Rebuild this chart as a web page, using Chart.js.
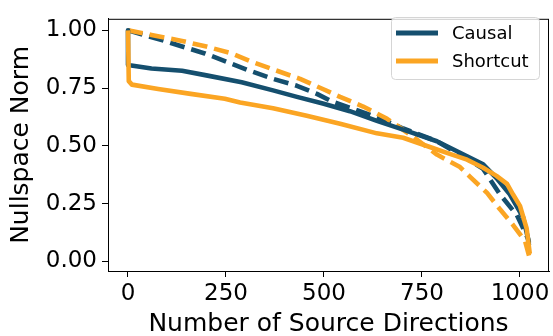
<!DOCTYPE html>
<html>
<head>
<meta charset="utf-8">
<script src="https://cdn.jsdelivr.net/npm/chart.js@4"></script>
<style>
  html, body { margin: 0; padding: 0; background: #fff; }
  #wrap { width: 553px; height: 336px; }
</style>
</head>
<body>
<div id="wrap"><canvas id="nullspaceChart"></canvas></div>
<script>
// values
const causalSolidX = [0, 0, 60, 138, 200, 290, 370, 431, 497, 566, 635, 702, 788, 847, 906, 940, 974, 1008, 1023];
const causalSolidY = [1.0, 0.85, 0.835, 0.825, 0.805, 0.775, 0.74, 0.712, 0.683, 0.65, 0.608, 0.57, 0.52, 0.47, 0.42, 0.36, 0.29, 0.19, 0.08];

const causalDashedX = [0, 50, 94, 138, 196, 247, 303, 370, 431, 482, 523, 600, 640, 702, 788, 865, 906, 949, 992, 1020, 1023];
const causalDashedY = [1.0, 0.975, 0.954, 0.93, 0.9, 0.867, 0.83, 0.79, 0.76, 0.725, 0.69, 0.645, 0.62, 0.575, 0.52, 0.445, 0.40, 0.29, 0.2, 0.1, 0.07];

const shortcutSolidX = [0, 2, 10, 77, 160, 247, 286, 370, 456, 541, 635, 702, 770, 821, 865, 906, 940, 967, 982, 1000, 1017, 1025];
const shortcutSolidY = [1.0, 0.78, 0.765, 0.746, 0.725, 0.704, 0.688, 0.663, 0.63, 0.596, 0.554, 0.535, 0.495, 0.465, 0.44, 0.405, 0.37, 0.335, 0.29, 0.24, 0.142, 0.033];

const shortcutDashedX = [0, 60, 138, 200, 265, 311, 380, 439, 497, 541, 600, 635, 661, 727, 788, 847, 872, 916, 949, 982, 1013, 1023];
const shortcutDashedY = [1.0, 0.98, 0.954, 0.93, 0.9, 0.867, 0.825, 0.79, 0.746, 0.712, 0.67, 0.64, 0.617, 0.54, 0.462, 0.408, 0.367, 0.296, 0.225, 0.158, 0.0875, 0.025];

const xTicks = [0, 250, 500, 750, 1000];
const yTicks = [0, 0.25, 0.5, 0.75, 1.0];

const causalColor = '#154f6e';
const shortcutColor = '#fba523';

function toPoints(xs, ys) {
    return xs.map((x, i) => ({x: x, y: ys[i]}));
}

// box around the plot area + matplotlib style legend
const framePlugin = {
    id: 'frame',
    afterDraw(chart) {
        const {ctx, chartArea} = chart;
        ctx.save();
        ctx.strokeStyle = '#000';
        ctx.lineWidth = 1;
        ctx.strokeRect(chartArea.left + 0.5, chartArea.top + 0.5,
            chartArea.right - chartArea.left - 1, chartArea.bottom - chartArea.top);

        // legend
        const x0 = 391, y0 = 17, w = 148, h = 62, r = 4;
        ctx.beginPath();
        ctx.roundRect(x0 + 0.5, y0 + 0.5, w, h, r);
        ctx.fillStyle = 'rgba(255,255,255,0.8)';
        ctx.fill();
        ctx.strokeStyle = '#d5d5d5';
        ctx.stroke();

        const entries = [['Causal', causalColor], ['Shortcut', shortcutColor]];
        ctx.font = '18px "DejaVu Sans"';
        ctx.textBaseline = 'middle';
        entries.forEach((e, i) => {
            const y = y0 + 16 + i * 28;
            ctx.beginPath();
            ctx.moveTo(396, y);
            ctx.lineTo(438, y);
            ctx.strokeStyle = e[1];
            ctx.lineWidth = 4.8;
            ctx.stroke();
            ctx.fillStyle = '#000';
            ctx.fillText(e[0], 452, y + 1);
        });
        ctx.restore();
    }
};

new Chart(document.getElementById('nullspaceChart'), {
    type: 'line',
    data: {
        datasets: [
            {
                label: 'Shortcut',
                data: toPoints(shortcutSolidX, shortcutSolidY),
                borderColor: shortcutColor,
                borderWidth: 4.6,
                order: 1
            },
            {
                label: 'Causal',
                data: toPoints(causalSolidX, causalSolidY),
                borderColor: causalColor,
                borderWidth: 4.6,
                order: 2
            },
            {
                label: 'Shortcut (dashed)',
                data: toPoints(shortcutDashedX, shortcutDashedY),
                borderColor: shortcutColor,
                borderWidth: 4.6,
                borderDash: [15, 7],
                order: 3
            },
            {
                label: 'Causal (dashed)',
                data: toPoints(causalDashedX, causalDashedY),
                borderColor: causalColor,
                borderWidth: 4.6,
                borderDash: [15, 7],
                order: 4
            }
        ]
    },
    options: {
        responsive: true,
        maintainAspectRatio: false,
        animation: false,
        elements: {
            point: { radius: 0 },
            line: { tension: 0, fill: false, borderJoinStyle: 'round' }
        },
        layout: { padding: { top: 8, right: 4, left: 0, bottom: 0 } },
        scales: {
            x: {
                type: 'linear',
                min: -51,
                max: 1074,
                afterBuildTicks: scale => { scale.ticks = xTicks.map(v => ({value: v})); },
                afterFit: scale => { scale.height = 65; },
                ticks: {
                    color: '#000',
                    font: { family: 'DejaVu Sans', size: 23 },
                    padding: 3,
                    maxRotation: 0,
                    callback: v => String(v)
                },
                grid: { display: true, drawOnChartArea: false, drawTicks: true, tickLength: 6, color: '#000' },
                border: { display: true, color: '#000', width: 1 },
                title: {
                    display: true,
                    text: 'Number of Source Directions',
                    color: '#000',
                    font: { family: 'DejaVu Sans', size: 25, lineHeight: 0.9 },
                    padding: { top: 0, bottom: 0 }
                }
            },
            y: {
                min: -0.042,
                max: 1.05,
                afterBuildTicks: scale => { scale.ticks = yTicks.map(v => ({value: v})); },
                afterFit: scale => { scale.width = 108; },
                ticks: {
                    color: '#000',
                    font: { family: 'DejaVu Sans', size: 23 },
                    padding: 5,
                    callback: v => v.toFixed(2)
                },
                grid: { display: true, drawOnChartArea: false, drawTicks: true, tickLength: 6, color: '#000' },
                border: { display: true, color: '#000', width: 1 },
                title: {
                    display: true,
                    text: 'Nullspace Norm',
                    color: '#000',
                    font: { family: 'DejaVu Sans', size: 25, lineHeight: 0.9 },
                    padding: { top: 10, bottom: 0 }
                }
            }
        },
        plugins: {
            legend: { display: false },
            tooltip: { enabled: false }
        }
    },
    plugins: [framePlugin]
});
</script>
</body>
</html>
